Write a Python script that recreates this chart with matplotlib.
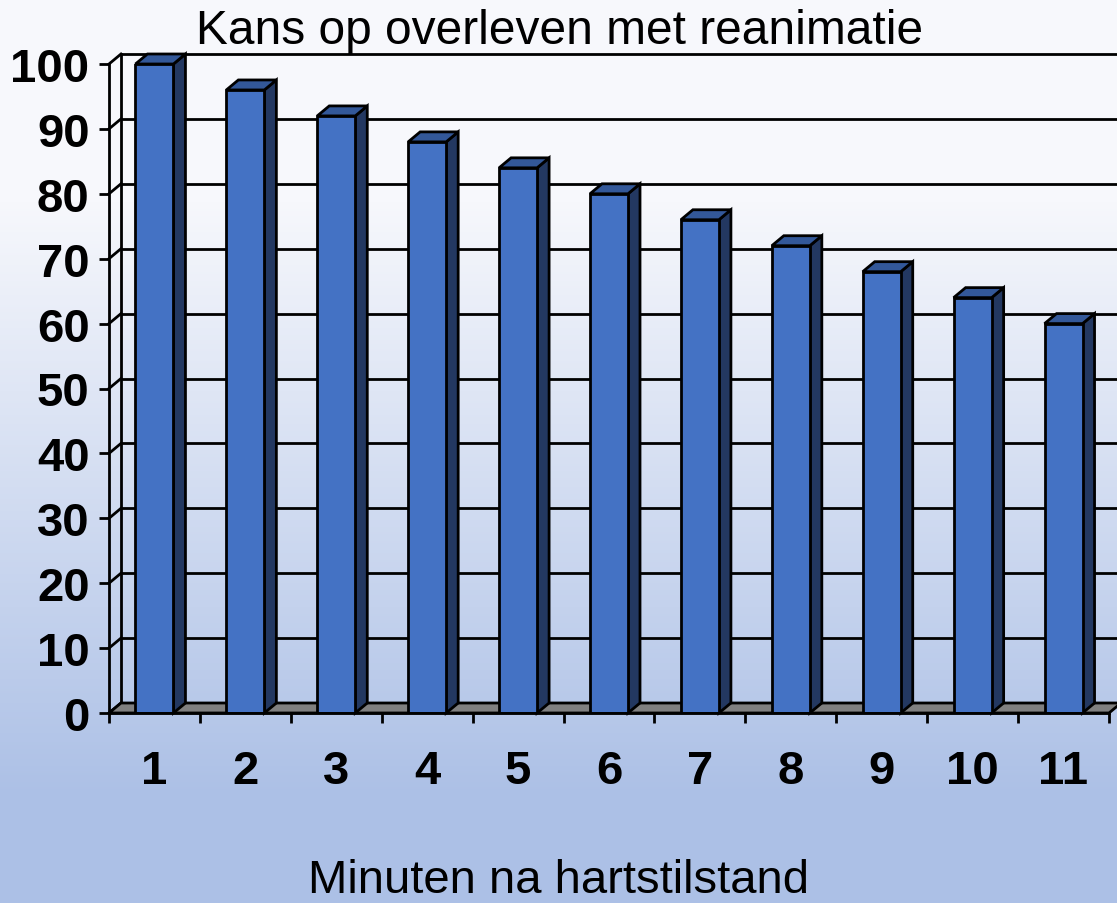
import numpy as np
import matplotlib
matplotlib.use("Agg")
import matplotlib.pyplot as plt
from matplotlib.patches import Polygon
from matplotlib.colors import LinearSegmentedColormap

# ---- data ----
categories = ["1", "2", "3", "4", "5", "6", "7", "8", "9", "10", "11"]
values = [100, 96, 92, 88, 84, 80, 76, 72, 68, 64, 60]
yticks = [0, 10, 20, 30, 40, 50, 60, 70, 80, 90, 100]
title = "Kans op overleven met reanimatie"
xlabel = "Minuten na hartstilstand"

plt.rcParams['font.family'] = ['Liberation Sans', 'DejaVu Sans']

W, H = 1117, 904
fig = plt.figure(figsize=(W / 100, H / 100), dpi=100)

# background gradient
bg = fig.add_axes([0, 0, 1, 1], zorder=-10)
bg.set_axis_off()
top_c = np.array([247, 248, 252]) / 255
bot_c = np.array([172, 192, 230]) / 255
ys = np.linspace(0, 1, H)  # 0 top -> 1 bottom
t = np.clip((ys * H - 200) / (800 - 200), 0, 1)
grad = np.tile(t[:, None], (1, 4))
cmap = LinearSegmentedColormap.from_list("bg", [top_c, bot_c])
bg.imshow(grad, aspect='auto', cmap=cmap, extent=[0, 1, 0, 1], origin='upper', vmin=0, vmax=1)
bg.set_xlim(0, 1); bg.set_ylim(0, 1)

# main axes: x 0.5..11.5 -> px 109..1109 ; y 0..100 -> px 714..65
x_left, x_right = 109, 1109
y0_px, y100_px = 714, 65
ax = fig.add_axes([x_left / W, (H - y0_px) / H, (x_right - x_left) / W, (y0_px - y100_px) / H])
ax.patch.set_alpha(0)
n = len(categories)
xs = np.arange(1, n + 1)
ax.set_xlim(0.5, n + 0.5)
ax.set_ylim(0, 100)

px_per_x = (x_right - x_left) / n
px_per_y = (y0_px - y100_px) / 100
ddx = 12 / px_per_x
ddy = 10 / px_per_y

lw = 2.0
# back wall gridlines
for v in yticks:
    ax.plot([0.5 + ddx, n + 1.5], [v + ddy, v + ddy], color='black', lw=lw, zorder=1,
            clip_on=False, solid_capstyle='butt')
    ax.plot([0.5, 0.5 + ddx], [v, v + ddy], color='black', lw=lw, zorder=1, clip_on=False)
ax.plot([0.5 + ddx, 0.5 + ddx], [ddy, 100 + ddy], color='black', lw=lw, zorder=1, clip_on=False)

# floor
floor = Polygon([(0.5, 0), (n + 0.5, 0), (n + 0.5 + ddx, ddy), (0.5 + ddx, ddy)],
                closed=True, facecolor='#808080', edgecolor='black', lw=lw, zorder=2, clip_on=False)
ax.add_patch(floor)

# bars
w = 38 / px_per_x
front_c = '#4472C4'
side_c = '#233861'
top_face_c = '#335899'
ax.bar(xs, values, width=w, color=front_c, edgecolor='black', linewidth=lw, zorder=5)
for x, v in zip(xs, values):
    x0, x1 = x - w / 2, x + w / 2
    side = Polygon([(x1, 0), (x1 + ddx, ddy), (x1 + ddx, v + ddy), (x1, v)], closed=True,
                   facecolor=side_c, edgecolor='black', lw=lw, zorder=4, clip_on=False)
    topf = Polygon([(x0, v), (x1, v), (x1 + ddx, v + ddy), (x0 + ddx, v + ddy)], closed=True,
                   facecolor=top_face_c, edgecolor='black', lw=lw, zorder=4, clip_on=False)
    ax.add_patch(side)
    ax.add_patch(topf)

# spines / axes
for s in ['top', 'right']:
    ax.spines[s].set_visible(False)
for s in ['left', 'bottom']:
    ax.spines[s].set_linewidth(lw)
    ax.spines[s].set_zorder(6)
ax.set_yticks(yticks)
ax.set_yticklabels([str(v) for v in yticks], fontsize=34, fontweight='bold')
ax.tick_params(axis='y', length=7, width=lw, pad=7)
ax.set_xticks(np.arange(0.5, n + 1, 1.0))
ax.set_xticklabels([])
ax.tick_params(axis='x', which='major', length=7, width=lw)
ax.set_xticks(xs, minor=True)
ax.set_xticklabels(categories, minor=True, fontsize=34, fontweight='bold')
ax.tick_params(axis='x', which='minor', length=0, pad=26)

fig.text(560 / W, 1 - 44 / H, title, ha='center', va='baseline', fontsize=34.5)
fig.text(558 / W, 1 - 893 / H, xlabel, ha='center', va='baseline', fontsize=34)

fig.savefig("out.png", dpi=100)
